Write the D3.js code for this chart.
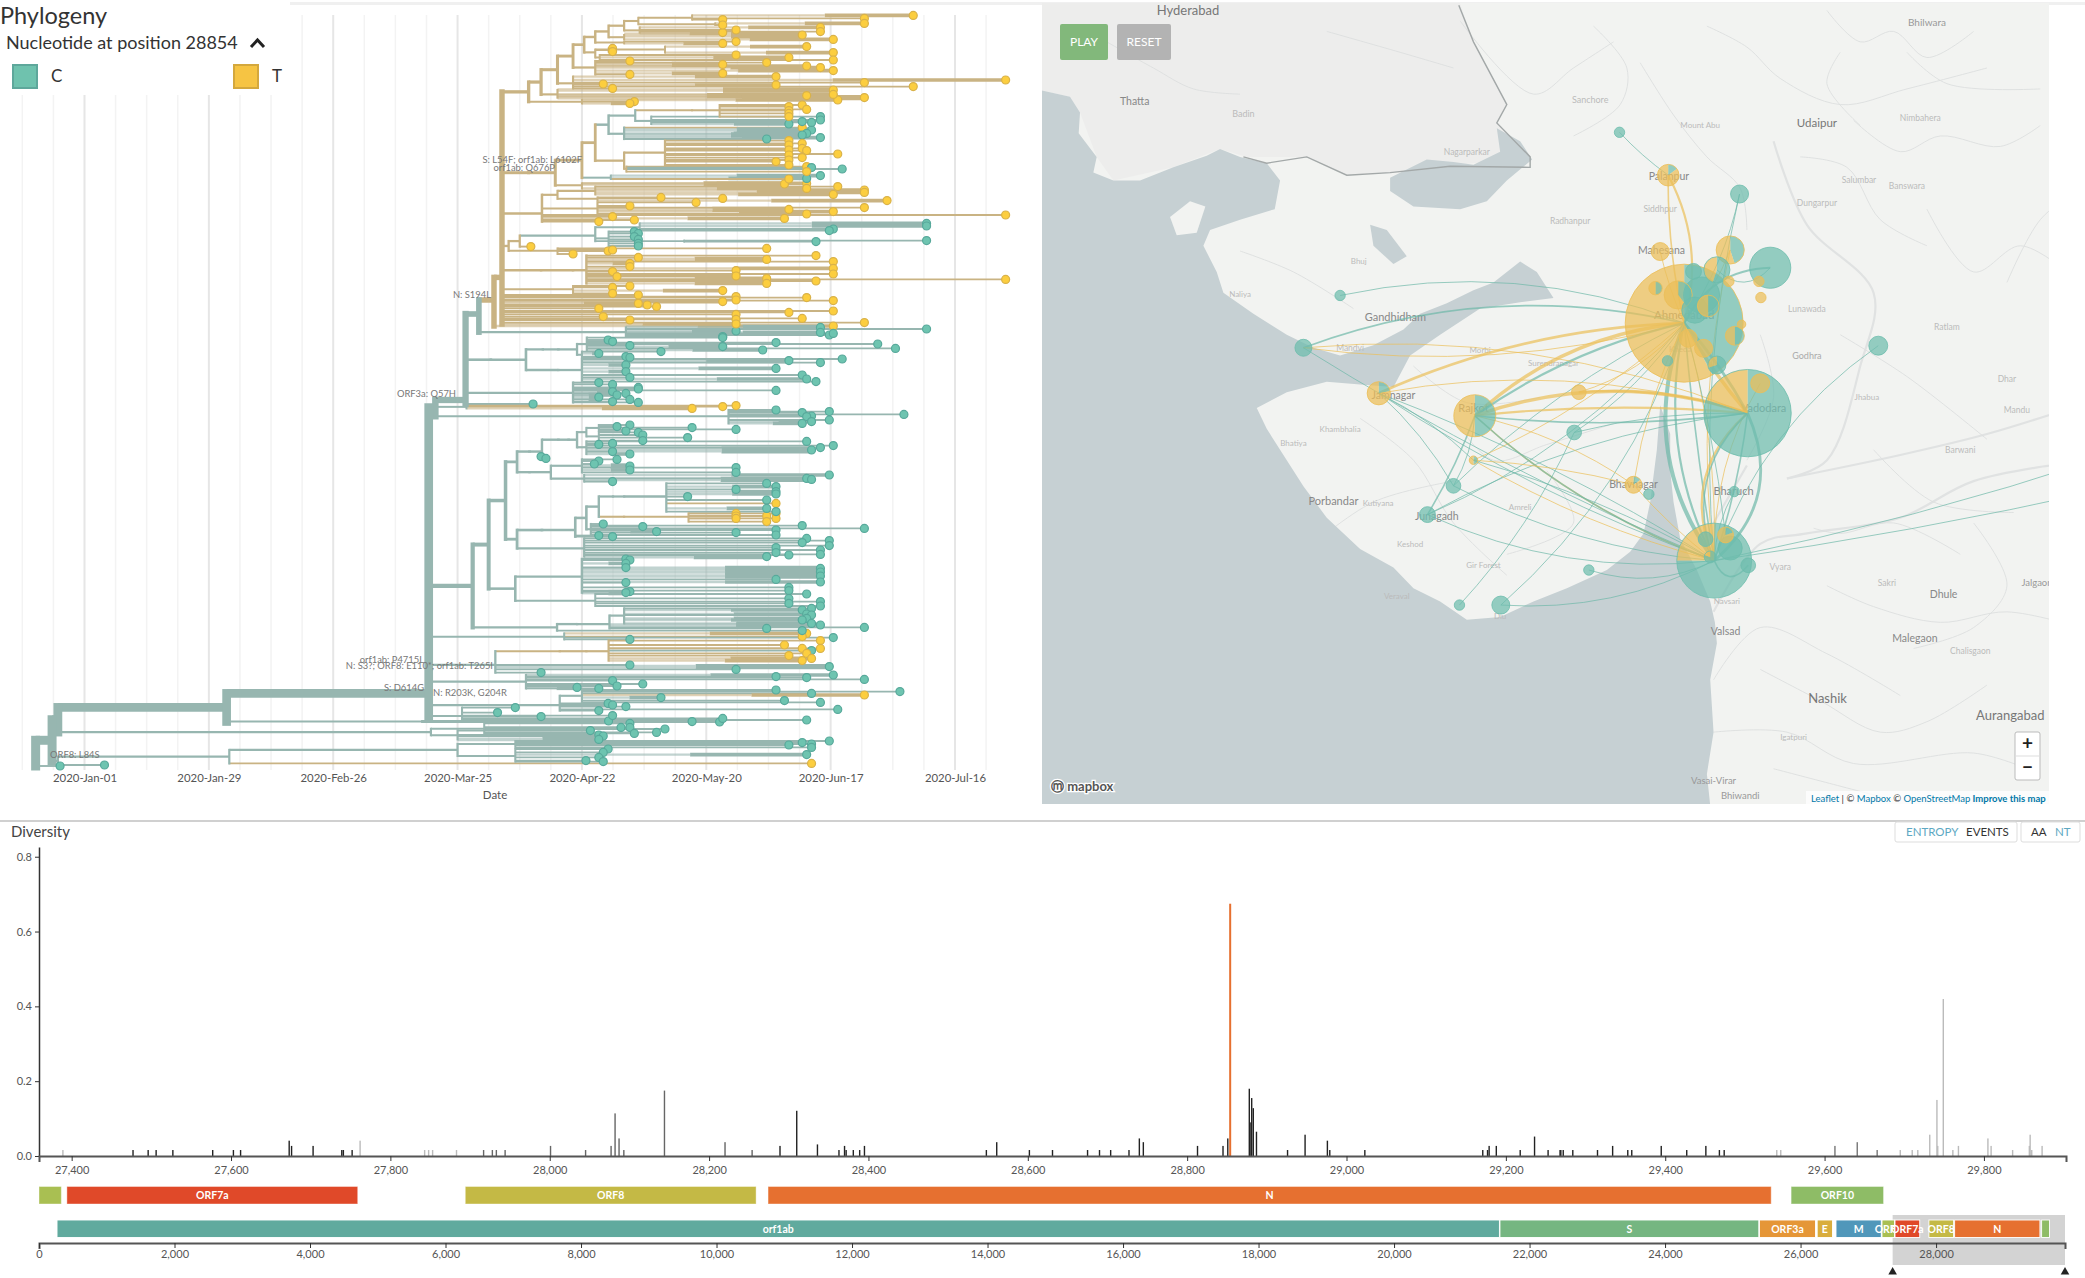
<!DOCTYPE html>
<html><head><meta charset="utf-8">
<script src="https://cdnjs.cloudflare.com/ajax/libs/d3/7.8.5/d3.min.js"></script>
<style>html,body{margin:0;padding:0;background:#fff;overflow:hidden}svg{display:block;font-family:Lato,"Open Sans",sans-serif}</style>
</head><body><svg id="c" width="2085" height="1278"></svg>
<script>
// ---------- tree data: internal [day,[children],state,rowOverride]; tip [day,row,samples,state]
const tickDays=[0,28,56,84,112,140,168,196];
const tickLabels=["2020-Jan-01","2020-Jan-29","2020-Feb-26","2020-Mar-25","2020-Apr-22","2020-May-20","2020-Jun-17","2020-Jul-16"];
const cladeA=[100,[[102.8,[[106.5,[[110,[[112.5,[[115,[[118,[[121.5,[[124.7,[[136.8,[[186.6,7.7,2],[175.6,9.2],[143.7,9.8]]],[142,[[175.6,11.7,2],[143.7,12.5]]]]],[125,[[165.7,13.7,2],[146.7,15],[165.7,15.8],[143.7,16.3,3]]]]],[121.5,[[161.6,17.5,4],[168.6,19.7,2]]]]],[121.5,[[146.7,20.8],[143.7,21.7,2]]]]],[115,[[118,[[118.9,24.2],[118.9,25.8]]],[130.7,[[162.6,23.3,2],[168.6,26.3,2]]],[116,[[146.7,27.5],[158.6,28.7,2],[168.6,30]]]]]]],[115,[[122.8,30.5],[153.6,31.3],[143.7,32.2,3],[162.6,33,2],[165.7,33.8,2],[168.6,35.3,2],[122.8,37.2],[143.7,36.7,2]]]]],[110,[[155.7,38.3,2],[207.4,40,2],[175.6,41.3],[116.8,42],[155.7,42.5,2],[186.6,43.3],[118.9,44.2]]]]],[106.5,[[168.6,45,3],[168.6,47.2,2],[162.6,47.8,3],[175.6,48.8,3]]]]],[112,[[169.6,50,2],[123.8,50.8],[122.8,51.7,2]]]]];
const cladeB=[100,[[106,[[112,[[115,[[118,[[124,[[136.8,[[143,[[161.6,52.5],[158.6,53.3],[162.6,54.7],[158.6,55.3],[158.6,56.7],[158.6,58.3]]]],"T"],[127.6,[[165.7,58.3],[165.7,60],[161.6,60.8],[163.7,61.2],[158.6,62,2]]]]],[121.5,[[161.6,63.8,1,"T"],[163.7,65,3],[162.6,66.7,2],[161.6,67.5,3],[153.6,69.5],[165.7,68.8,2]]]],"C"],[121.5,[[130.7,[[158.6,70.3],[161.6,71.7],[158.6,72.5],[161.6,74.2],[158.6,75],[162.6,75.3],[169.6,77],[158.6,77.5],[161.6,78.8],[158.6,80],[155.7,80.8],[158.6,82.5]]],[122,[[162.6,83.3],[163.7,83.8,1,"C"],[170.6,84.5,1,"C"],[162.6,85.8]]]]]]],[118.5,[[165.7,87.8,2],[162.6,89.2,2],[158.6,89.5,1,"T"]],"C"]]],[112,[[157.6,92,3],[162.6,91.7,2],[162.6,94.2,2]]]]]]];
const cladeC=[103,[[106.5,[[115,[[169.6,93.3],[175.6,95,2],[175.6,96.2,2],[168.6,97.2,2]]],[115.5,[[129.8,98.7],[143.7,99.2],[180.7,100.3,2]]]]],[115.5,[[137.7,101.2],[122.8,103],[175.6,103.8],[158.6,104.7,3],[168.6,105.8,2],[162.6,107]]],[207.4,107.5],[118.9,108.3],[157.6,109.2,2],[123.8,110],[115.8,110.8]]];
const cladeD=[95.5,[[98,[[100.5,123.3],[115,[[118,[[123.8,115.8],[124.7,116.7],[123.8,118.3],[124.7,119.7],[124.7,121.7],[124.7,123]]],[125,[[189.6,111.7,2],[189.6,113,2],[168.6,114.5],[167.7,115.3]]],[135,[[164.7,120.8],[189.6,120.3]]]],"C"]]],[106.5,[[110,127],[117.9,125.5],[118.9,125],[153.6,124.2]]]]];
const cladeE=[102.8,[[110,[[113,[[124.7,128.7],[164.7,127.8],[153.6,129.7,3],[122.8,131.7,2],[122.8,133.3],[168.6,130.8],[168.6,134.2,2],[168.6,137],[146.7,135.3],[146.7,138],[118.9,135.8],[119.9,138.3],[164.7,140.5],[207.4,139.7],[153.6,139.2,2],[153.6,141.7,2]]]]]]];
const tipsF=[[110,[[118.9,143.7],[122.8,143],[118.9,146.7],[143.7,145.3,2]]],[124.7,147.5],[143.7,150.8,2],[146.7,148.3],[146.7,150],[162.6,148.8],[168.6,150.3],[124.7,151.7,2],[126.7,152.5],[128.8,153.3],[115.8,154.2],[116.8,158.3],[122.8,160],[146.7,157.2],[146.7,159.7],[146.7,162,2],[158.6,156.2],[161.6,159.2],[168.6,155.5],[175.6,161.3]];
const cladeTeal1=[121.9,[[165.7,163.7,3],[189.6,164.5],[146.7,165.5,3],[165.7,166.2,2],[167.7,167.5],[168.6,166.7],[143.7,168.3]],"C"];
const cladeG=[91.5,[[99.4,[[103.2,[[106.7,[[110.9,[[113.1,[[117.9,170],[118.9,170.8],[122.8,172.8],[143.7,168.8],[143.7,173.3,2],[155.7,171.3],[178.6,172],[182.6,174.2],[152.7,175,2]]],[112,[[129.8,175.8],[115.8,176.7,2],[121.9,178.3],[122.8,178.7]]]]]]]]],[106.7,[[112,[[158.6,180.3,3],[165.7,181.3],[170.6,179.5],[121.9,182.5,2],[155.7,184.2,2],[121.9,185.8,2],[122.8,188.7],[161.6,187.5],[162.6,189.5,2],[164.7,190.8]]]]]]]]];
const cladeG2=[110,[[115.8,191.3],[118.9,192.2],[124.7,193.7],[124.7,194.5],[155.7,195.2],[118.9,195.8,3],[119.9,197.5,2],[121.9,196.7],[115.8,198.6,5],[118.9,200.8],[122.8,199.7],[124.7,201.2]]];
const tipsT2=[[136.8,204.2,2,"T"],[143.7,203.3,1,"T"],[146.7,202.8,1,"T"]];
const cladeH0=[145,[[155.7,205],[161.6,206.3],[167.7,205.8],[163.7,208],[162.6,208.3],[184.5,207.2],[161.6,211.7,2],[163.7,210.8,2],[167.7,210]]];
const cladeH1=[100.2,[[103,[[106.7,[[109,[[110.9,[[113,[[115.8,[[119.9,213.3],[122.8,212.5],[121.9,215.5],[136.8,213.8],[146.7,214.7]]],[115.8,[[124.7,216.2],[125.7,217.5],[125.7,220.3],[135.8,218.8]]]]],[113,[[115.8,222.2],[118.9,221.7],[162.6,220.7],[163.7,225,4],[165.7,223.8],[168.6,222.8],[118.9,225.8],[122.8,227,2]]]]]]]]],[102.8,228.3],[103.9,229.2]]]]];
const cladeH2=[105,[[112,[[119.9,229.7],[115.8,230.5],[114.8,232],[122.8,233,3],[122.8,235,2],[146.7,233.8],[146.7,236.2]]],[112.5,[[118.9,240.8],[162.6,239.2],[163.7,239.7,3],[167.7,237.5,2]]]]];
const cladeH3=[97.4,[[103,[[110.5,[[113,[[115.8,[[119,[[121.5,[[131,[[153.6,241.7],[146.7,244.7],[155.7,243.3,2],[155.7,245.8,2],[155.7,247,2],[135.8,248.3],[153.6,250],[155.7,251.7,1,"T"],[153.6,254.2,2],[155.7,255.8]]]]]]],[121.5,[[136,[[146.7,256.7],[146.7,258],[146.7,259.2],[153.6,258],[153.6,260.8],[155.7,256.7],[155.7,259.2]]]],"T"]]],[114,[[116.8,262],[125.7,263.3],[128.8,265.8,2],[161.6,262.8],[175.6,264.2],[155.7,265],[146.7,266.3],[155.7,267.5]]]]],[115.8,267.8],[118.9,268.3]]]]],[112.5,[[162.6,269.2],[161.6,271.3],[167.7,270.3],[167.7,272.8],[155.7,273.8],[155.7,276.3],[165.7,275],[165.7,277.2],[158.6,277.5],[153.6,278.3,3]]]]];
const cladeH4=[97,[[112,[[121.9,279.5],[122.8,280],[121.9,281.7,2],[121.9,283.8],[165.7,284.2,3],[165.7,286,3],[155.7,289.7],[165.7,288,3],[165.7,291,2],[121.9,291.3],[122.8,295.8],[121.9,296.3,3],[158.6,293.7],[158.6,295.3]]],[115,[[162.6,297],[158.6,299.2],[165.7,300.8],[158.6,301.7],[165.7,303]]]]];
const cladeH5=[106.4,[[110.9,[[118.2,[[121.5,[[161.6,305,2],[163.7,304.2],[162.6,307,2],[163.7,307.5],[162.6,309.2,2],[161.6,310,2],[163.7,311.7,2]]],[165.7,312.5,3],[175.6,313.7],[153.6,314.2]]]]],[161.6,315.3]]];
const cladeMixT=[92.5,[[107,[[113,[[118,[[165.7,320.3],[157.6,322.5],[165.7,324.2],[161.6,324.2],[163.7,325.3,1,"C"],[162.6,326.7],[158.6,327.8],[163.7,329.2,2],[161.6,330.3,2]]]]]],"T"],[122.8,332.5],[167.7,333.3,3],[146.7,334.7],[102.8,336.3]]];
const row319=[108,[[162.6,316.7,2,"T"],[161.6,318.3,1,"T"],[168.6,318.8],[122.8,319.7]]];
const cladeL=[99.4,[[155.7,338.3],[162.6,338.8],[168.6,337.5,2],[175.6,339.7],[118.9,340.3],[125.7,342],[119.9,343],[115.8,344.2],[110.9,343.7,3]]];
const cladeM=[107,[[112,[[155.7,345],[183.6,345.8],[163.7,346.7],[175.6,347.5,2,"T"],[129.8,348.8,2],[157.6,350.3],[165.7,351.2]]],[117.9,351.7],[118.9,352.5],[121.9,353.3],[169.6,354.7],[115.8,355.3]]];
const cladeN=[85,[[97,353.8],[93,356.3],[102.8,358.3],[118.9,357.8],[143.7,359.2],[136.8,360.8],[162.6,360]]];
const cladeJ=[78,[[90,[[122.8,361.7],[120.8,363.7],[122.8,363.7],[130.7,364.5],[128.8,366.2],[123.8,366.7]]],[84,[[113.9,365.3],[115.8,367.5],[116.8,368],[115.8,369.7,3]]]]];
const cladeK=[32.6,[[84,[[97,[[167.7,370.5],[161.6,371.3],[163.7,372],[163.7,373.7],[158.6,372.5]]],[97,[[117.9,374.5],[116.8,376.2],[115.8,378.7],[116.8,380.8],[162.6,377.3,2],[112.9,380.3]]]]],[163.7,381.7,1,"T"]]];
const mainStem=[77.5,[
  [79,[[85.8,[[88.8,[[92.2,[[94,[cladeA,cladeB,cladeC,cladeD,cladeE,...tipsF],"T",138.7],[168.6,163,2,"T"]],"T",150],cladeTeal1],undefined,157],cladeG,cladeG2,[101,202]],undefined,200],[86,tipsT2],cladeH0]],
  [87.4,[[91,[[94.8,[[97.4,[cladeH1,[100.2,[cladeH2]]]],cladeH3]],cladeH4]],cladeH5]],
  row319,cladeMixT,cladeL,cladeM,cladeN],undefined,346.7];
const phylogeny=[-11,[[-7.3,[[-6,[[32,[mainStem,[76,[[143,361],[118,360.5]]]]],cladeJ]],[-6,[[4.5,382.5],cladeK]]]],[-5.5,383]],"C"];
const stateColors={C:"#6ec4b0",T:"#fcce3f"},stateEdge={C:"#58a99b",T:"#d9b24a"},branchColors={C:"#97b6b0",T:"#c9b383"};
const mutationLabels=[["S: L54F; orf1ab: L6102F",582,163,"end"],["orf1ab: Q676P",555,171,"end"],["N: S194L",491,298,"end"],["ORF3a: Q57H",456,397,"end"],["orf1ab: P4715L",424,663,"end"],["N: S3?; ORF8: E110*; orf1ab: T265I",493,669,"end"],["S: D614G",424,691,"end"],["N: R203K, G204R",433,696,"start"],["ORF8: L84S",50,758,"start"]];

// ---------- map data, in a map grid (east, south)
const seaOutline=[[0,172],[45,185],[60,215],[58,255],[85,300],[80,330],[110,345],[150,345],[200,320],[250,298],[270,285],[300,300],[340,312],[360,345],[352,400],[300,420],[255,440],[245,470],[265,520],[275,560],[320,600],[370,640],[410,665],[450,680],[500,660],[545,630],[570,600],[610,580],[650,555],[680,540],[720,500],[745,520],[770,570],[720,578],[660,590],[600,640],[555,680],[530,740],[480,735],[430,730],[370,750],[325,780],[340,820],[365,870],[395,930],[430,990],[480,1050],[530,1085],[560,1125],[600,1150],[640,1185],[690,1180],[740,1150],[790,1125],[850,1090],[885,1055],[905,1020],[915,960],[925,860],[930,775],[945,830],[945,900],[950,960],[960,1030],[985,1090],[1005,1150],[1012,1190],[1015,1230],[1005,1300],[1010,1400],[1000,1480],[1005,1540],[0,1540]];
const rannOutline=[[525,340],[580,305],[620,310],[650,315],[690,290],[685,245],[720,270],[738,305],[700,345],[670,385],[630,400],[560,395],[525,365]];
const rann2Outline=[[495,430],[520,440],[550,490],[530,505],[500,470]];
const kutchIsland=[[195,415],[225,385],[248,395],[235,445],[205,450]];
const pakistanOutline=[[0,0],[628,0],[650,80],[700,200],[685,235],[735,300],[525,330],[460,335],[400,300],[310,300],[270,285],[200,320],[110,345],[85,300],[60,215],[45,185],[0,172]];
const borderLine=[[628,10],[650,80],[700,200],[685,235],[735,300],[735,320],[615,318],[525,330],[460,335],[400,300],[340,312],[305,300]];
const stateLines=[[[1100,270],[1150,430],[1250,560],[1230,700],[1180,880],[1120,915]],[[1120,915],[1290,870],[1420,830],[1570,770]],[[1010,1170],[1080,1040],[1150,1020],[1290,990],[1400,920],[1570,880]],[[1060,890],[1010,1000]]];
const riverLines=[[[630,40],[740,180],[800,130],[860,80]],[[900,120],[950,220],[1000,300],[1050,360],[1060,440]],[[1000,50],[1060,90],[1110,150],[1200,200],[1300,170],[1420,130]],[[1140,300],[1210,320],[1260,420],[1330,470]],[[1160,1010],[1200,1020],[1280,1000],[1380,1060]],[[1400,1000],[1450,1120],[1400,1200],[1310,1240]],[[1010,1300],[1080,1200],[1180,1250],[1290,1330]],[[1010,1400],[1120,1400],[1220,1460],[1400,1440],[1480,1470]],[[1300,100],[1360,160],[1500,170]],[[400,1050],[500,960],[620,920]],[[760,900],[800,1000],[700,1060]],[[560,700],[640,770],[750,760]],[[100,80],[170,130],[230,170],[300,180]],[[430,60],[540,100],[620,130]],[[1450,540],[1500,420],[1560,360]],[[1200,640],[1300,720],[1420,840]],[[1080,640],[1100,760],[1060,880]],[[1180,20],[1230,80],[1280,60],[1330,110],[1400,60]],[[830,50],[880,130],[870,200],[800,260]],[[1220,230],[1290,290],[1350,260],[1440,280],[1500,240]],[[1330,400],[1400,520],[1470,470],[1540,520]],[[1180,1120],[1250,1160],[1350,1190],[1450,1170],[1560,1200]],[[1080,1280],[1170,1340],[1260,1400],[1330,1380],[1420,1310]],[[1100,1470],[1190,1500],[1280,1530]],[[620,800],[680,880],[760,850],[860,810]],[[480,800],[560,880],[620,1000],[700,1100]],[[300,480],[380,520],[470,590]],[[1250,860],[1340,960],[1460,980]],[[1200,100],[1180,160],[1230,240]]];
const placeLabels=[["Hyderabad",222,20,13,"#777"],["Udaipur",1165,235,11.5,"#777"],["Nashik",1181,1335,13,"#777"],["Aurangabad",1455,1368,13,"#777"],["Thatta",142,193,10.5,"#888"],["Porbandar",440,958,11,"#888"],["Gandhidham",533,607,11,"#888"],["Mahesana",932,478,10.5,"#888"],["Palanpur",943,338,10.5,"#888"],["Ahmedabad",966,602,11.5,"#888"],["Vadodara",1085,780,11,"#888"],["Rajkot",650,780,11,"#888"],["Jamnagar",530,755,10.5,"#888"],["Bhavnagar",890,926,10.5,"#888"],["Bharuch",1040,940,11,"#888"],["Valsad",1028,1207,10.5,"#888"],["Junagadh",595,988,10.5,"#888"],["Dhule",1355,1137,10.5,"#888"],["Malegaon",1312,1220,10.5,"#888"],["Vasai-Virar",1010,1492,9.5,"#999"],["Bhiwandi",1050,1522,9.5,"#999"],["Godhra",1150,680,9,"#aaa"],["Bhilwara",1330,43,10,"#999"],["Sanchore",825,190,9,"#bbb"],["Badin",305,217,9,"#bbb"],["Nagarparkar",640,290,8.5,"#bbb"],["Mount Abu",990,240,8,"#bbb"],["Siddhpur",930,400,8.5,"#bbb"],["Radhanpur",795,422,8.5,"#bbb"],["Lunawada",1150,590,8.5,"#bbb"],["Kheda",960,668,8,"#bbb"],["Ratlam",1360,625,8.5,"#bbb"],["Dhar",1450,725,8.5,"#bbb"],["Mandu",1465,785,8.5,"#bbb"],["Barwani",1380,860,8.5,"#bbb"],["Jhabua",1240,760,8,"#bbb"],["Surendranagar",770,695,8,"#bbb"],["Morbi",660,670,8,"#bbb"],["Veraval",535,1140,8,"#bbb"],["Diu",690,1178,8,"#bbb"],["Amreli",720,970,8,"#bbb"],["Navsari",1030,1150,8,"#bbb"],["Vyara",1110,1085,8.5,"#bbb"],["Sakri",1270,1115,8.5,"#bbb"],["Igatpuri",1130,1410,8,"#bbb"],["Jalgaon",1495,1115,9.5,"#999"],["Chalisgaon",1395,1245,8.5,"#bbb"],["Dungarpur",1165,388,8.5,"#bbb"],["Banswara",1300,355,8.5,"#bbb"],["Salumbar",1228,345,8.5,"#bbb"],["Nimbahera",1320,225,8.5,"#bbb"],["Naliya",300,562,8,"#bbb"],["Bhuj",478,500,8,"#bbb"],["Mandvi",465,665,8.5,"#bbb"],["Khambhalia",450,820,8,"#bbb"],["Bhatiya",380,848,8,"#bbb"],["Keshod",555,1040,8,"#bbb"],["Gir Forest",665,1080,8,"#bbb"],["Kutiyana",507,962,8,"#bbb"]];
const samples=[["Ahmedabad",966,618,387,.42],["Vadodara",1061,790,212,.8],["Surat",1011,1072,156,.75],["Rajkot",652,795,49,.5],["Jamnagar",508,752,15,.22],["Bhuj",450,565,3,1],["Mandvi",395,665,8,1],["Sirohi",869,253,3,1],["Palanpur",942,335,13,.15],["Sabarkantha",1049,371,9,1],["Mehsana",930,481,9,0],["Himmatnagar",1035,478,22,.45],["Dungarpur",1095,512,47,1],["Modasa",1015,516,19,.55],["Gandhinagar",980,519,7,1],["Kalol",923,551,5,.5],["Kadi",957,564,22,.4],["Dehgam",992,564,36,1],["Kapadvanj",1002,585,13,.5],["Naroda",982,593,19,1],["Kheda",1052,620,2,0],["Nadiad",1042,642,10,.5],["Shamlaji",1078,538,3,0],["Bayad",1081,569,3,0],["Idar",1033,538,3,0],["Anand",995,666,9,0],["Sanand",972,647,9,0],["Petlad",1015,698,9,.7],["Bavla",941,690,3,1],["Chotila",808,750,6,0],["Botad",801,827,6,1],["Panchmahal",1080,733,10,0],["Bhavnagar",890,927,8,.15],["Ghogha",913,945,3,1],["Bharuch",1041,940,3,1],["Mahuva",823,1090,3,1],["Olpad",998,1031,6,1],["Kamrej",1005,1065,4,.8],["Ankleshwar",1028,1023,7,.2],["Bardoli",1035,1048,16,1],["Tapi",1062,1081,6,1],["Gondal",650,880,2,.5],["Amreli",620,929,6,1],["Junagadh",581,984,7,1],["Veraval",629,1157,3,1],["Una",691,1157,9,1],["Dahod",1257,661,10,1],["East1",1600,872,0,1],["East2",1600,935,0,1]];
const transmissions=[["Ahmedabad","Bhuj","C",1,-.15],["Ahmedabad","Mandvi","C",2,-.15],["Ahmedabad","Mandvi","T",1,.1],["Ahmedabad","Jamnagar","T",4,-.1],["Ahmedabad","Rajkot","T",5,-.17],["Ahmedabad","Rajkot","C",3,-.1],["Ahmedabad","Chotila","T",1,.15],["Ahmedabad","Botad","C",1,.1],["Ahmedabad","Amreli","C",1,-.08],["Ahmedabad","Junagadh","C",1,.12],["Ahmedabad","Gondal","T",1,.08],["Ahmedabad","Surat","C",6,-.27],["Ahmedabad","Surat","C",3,-.18],["Ahmedabad","Surat","C",2,-.02],["Ahmedabad","Surat","T",1,.08],["Ahmedabad","Vadodara","T",5,-.05],["Ahmedabad","Vadodara","C",4,.06],["Ahmedabad","Palanpur","T",2,.06],["Ahmedabad","Palanpur","T",3,-.2],["Palanpur","Sirohi","C",1,.05],["Ahmedabad","Mehsana","T",1,.05],["Ahmedabad","Himmatnagar","T",1,-.1],["Ahmedabad","Sabarkantha","C",1,-.1],["Ahmedabad","Dungarpur","C",3,.3],["Surat","Sabarkantha","C",1,.08],["Surat","Panchmahal","T",1,.14],["Surat","Himmatnagar","T",1,.09],["Vadodara","Rajkot","T",5,-.17],["Vadodara","Rajkot","T",3,-.05],["Vadodara","Chotila","T",3,-.1],["Vadodara","Botad","C",1,-.07],["Vadodara","Surat","C",4,.37],["Vadodara","Surat","C",2,.05],["Surat","Vadodara","T",3,.36],["Surat","Vadodara","C",2,.33],["Vadodara","Jamnagar","T",1,-.12],["Vadodara","Rajkot","C",2,.06],["Vadodara","Junagadh","C",1,-.1],["Vadodara","Mandvi","T",1,-.12],["Surat","Rajkot","T",2,.1],["Surat","Rajkot","C",2,.1],["Surat","Jamnagar","C",1,.06],["Surat","Jamnagar","C",1,-.05],["Surat","Mandvi","C",1,.04],["Surat","Gondal","T",1,.07],["Surat","Gondal","C",1,-.06],["Surat","Bhavnagar","T",1,.05],["Surat","Junagadh","C",1,.14],["Surat","Una","C",1,.14],["Surat","Mahuva","C",1,.2],["Botad","Veraval","C",1,.08],["Ahmedabad","Una","C",1,.14],["Rajkot","Junagadh","C",2,.05],["Surat","East1","C",1,-.03],["Surat","East2","C",1,-.02],["Surat","Dahod","C",1,.16],["Surat","Bharuch","C",1,.12],["Jamnagar","Amreli","C",1,.08],["Jamnagar","Gondal","C",1,.08],["Rajkot","Bhavnagar","T",1,.1],["Rajkot","Amreli","C",1,.12],["Surat","Amreli","C",1,.1],["Gondal","Bhavnagar","T",1,.05],["Ahmedabad","Ankleshwar","C",1,.04],["Ahmedabad","Bhavnagar","T",1,-.08],["Surat","Tapi","C",2,-.8],["Surat","Kamrej","C",2,.7],["Dungarpur","Modasa","C",1,.5]];

// ---------- entropy data
const entropyPositions=[27389,27477,27496,27506,27527,27577,27603,27612,27673,27676,27703,27739,27741,27752,27762,27843,27848,27853,27883,27917,27928,27933,27944,28001,28045,28077,28082,28087,28093,28144,28220,28254,28289,28310,28336,28363,28370,28372,28381,28389,28395,28548,28561,28602,28631,28675,28690,28704,28727,28740,28745,28813,28845,28851,28854,28878,28879,28881,28883,28887,28926,28948,28976,28979,29023,29171,29177,29179,29188,29218,29236,29253,29268,29269,29272,29284,29315,29334,29353,29358,29395,29427,29451,29468,29474,29540,29545,29613,29641,29666,29695,29710,29717,29732,29741,29742,29749,29761,29768,29805,29809,29836,29857,29858,29860,29873];
const entropyValues=[.016,.016,.016,.016,.016,.016,.016,.016,.041,.027,.027,.016,.016,.016,.041,.016,.016,.016,.016,.016,.016,.016,.016,.027,.016,.027,.114,.047,.016,.175,.037,.016,.027,.121,.031,.016,.027,.016,.016,.016,.027,.016,.037,.016,.016,.016,.016,.016,.016,.047,.037,.027,.027,.047,.675,.18,.09,.155,.128,.065,.016,.057,.041,.016,.016,.016,.016,.027,.027,.016,.052,.016,.016,.016,.016,.016,.016,.027,.016,.016,.027,.016,.027,.016,.016,.016,.016,.027,.037,.016,.016,.016,.016,.057,.15,.027,.42,.016,.027,.047,.027,.016,.027,.057,.016,.027];
const highlightedSite=28854;
const yTicks=[0,.2,.4,.6,.8];
const genes=["orf1ab","S","ORF3a","E","M","ORF6","ORF7a","ORF8","N","ORF10"];
const geneStarts=[266,21563,25393,26245,26523,27202,27394,27894,28274,29558];
const geneEnds=[21555,25384,26220,26472,27191,27387,27759,28259,29533,29674];
const geneColors=["#60aa9e","#75b681","#e59637","#d9ad3d","#5097ba","#a9bf52","#e04929","#c4b945","#e67030","#8ebc66"];
const geneBarTones={ORF7a:"#222",ORF8:"#666",N:"#222",ORF10:"#777"};
const zoomRange=[27359,29903];
const genomeTicks=d3.range(0,29000,2000);

// ---------- drawing
const svg=d3.select("#c");
svg.append("rect").attr("width",2085).attr("height",1278).attr("fill","#fff");
svg.append("rect").attr("x",290).attr("y",2).attr("width",1795).attr("height",3).attr("fill","#f0f0f0");

/* ---- tree ---- */
const x=d3.scaleLinear([0,196],[84.5,955]);
const y=d3.scaleLinear([0,390],[0,780]);
const grid=svg.append("g");
grid.selectAll("line").data(d3.range(-14,204,7)).join("line")
  .attr("x1",d=>x(d)).attr("x2",d=>x(d)).attr("y1",15).attr("y2",770)
  .attr("stroke",d=>d%28===0?"#e6e6e6":"#f3f3f3").attr("stroke-width",d=>d%28===0?2:1.5);
function parse(a,st){
  if(!Array.isArray(a[1])) return {day:a[0],row:a[1],n:a[2]||1,state:a[3]||st,tip:true};
  const state=a[2]||st;
  const kids=a[1].map(k=>parse(k,state));
  return {day:a[0],kids,state,n:d3.sum(kids,k=>k.n),row:a[3]!==undefined?a[3]:d3.mean(kids,k=>k.row)};
}
const root=d3.hierarchy(parse(phylogeny,"C"),d=>d.kids);
const nodes=root.descendants();
const tw=d3.scalePow().exponent(.8).domain([1,root.data.n]).range([1.9,9]);
const rowH=y(1)-y(0);
const bw=d=>d.data.tip?1.9:tw(d.data.n);
const branches=svg.append("g").attr("fill","none").attr("stroke-linecap","square");
const order=nodes.slice().sort((a,b)=>bw(a)-bw(b));
// collapsed tips (several samples) fade from a thin light run into a dense dark run
const segs=[];
order.filter(d=>d.parent).forEach(d=>{
  const p=d.parent.data.day,t=d.data.day,n=d.data.n;
  if(d.data.tip&&n>1){
    const m=p+(t-p)*.6;
    segs.push({a:p,b:m,row:d.data.row,st:d.data.state,w:Math.max(1.9,n*rowH*.6),o:.6});
    segs.push({a:m,b:t,row:d.data.row,st:d.data.state,w:n*rowH*.9,o:1});
  } else segs.push({a:p,b:t,row:d.data.row,st:d.data.state,w:bw(d),o:1});
});
branches.selectAll(".h").data(segs).join("line").attr("class","h")
  .attr("x1",d=>x(d.a)).attr("x2",d=>x(d.b)).attr("y1",d=>y(d.row)).attr("y2",d=>y(d.row))
  .attr("stroke",d=>branchColors[d.st]).attr("stroke-width",d=>d.w).attr("stroke-opacity",d=>d.o)
  .attr("stroke-linecap","butt");
branches.selectAll(".v").data(order.filter(d=>d.children)).join("line").attr("class","v")
  .attr("x1",d=>x(d.data.day)).attr("x2",d=>x(d.data.day))
  .attr("y1",d=>y(Math.min(d.data.row,d3.min(d.children,k=>k.data.row)))).attr("y2",d=>y(Math.max(d.data.row,d3.max(d.children,k=>k.data.row))))
  .attr("stroke",d=>branchColors[d.data.state]).attr("stroke-width",bw);
svg.append("g").selectAll("circle").data(nodes.filter(d=>d.data.tip)).join("circle")
  .attr("cx",d=>x(d.data.day)).attr("cy",d=>y(d.data.row)).attr("r",4)
  .attr("fill",d=>stateColors[d.data.state]).attr("stroke",d=>stateEdge[d.data.state]).attr("stroke-width",1.2);
const xa=d3.axisBottom(x).tickValues(tickDays).tickFormat((d,i)=>tickLabels[i]).tickSize(0);
const xag=svg.append("g").attr("transform","translate(0,772)").call(xa);
xag.select(".domain").remove();
xag.selectAll("text").attr("font-size",11.4).attr("font-family","Lato").attr("fill","#555").attr("dy","0.6em");
svg.append("text").attr("x",495).attr("y",799).attr("text-anchor","middle").attr("font-size",11.5).attr("fill","#555").text("Date");
svg.append("g").selectAll("text").data(mutationLabels).join("text")
  .attr("x",d=>d[1]).attr("y",d=>d[2]).attr("text-anchor",d=>d[3]).attr("font-size",9.4).attr("fill","#777").text(d=>d[0]);
// legend
svg.append("rect").attr("width",290).attr("height",95).attr("fill","#fff");
svg.append("text").attr("x",0).attr("y",24).attr("font-size",23.5).attr("fill","#333").text("Phylogeny");
svg.append("text").attr("x",6).attr("y",49).attr("font-size",18).attr("fill","#333").text("Nucleotide at position 28854");
svg.append("path").attr("d",d3.line()([[251,47],[257.5,40],[264,47]])).attr("fill","none").attr("stroke","#222").attr("stroke-width",3);
const lg=svg.append("g").selectAll("g").data(["C","T"]).join("g").attr("transform",(d,i)=>`translate(${i?234:13},65)`);
lg.append("rect").attr("width",24).attr("height",23).attr("fill",d=>d==="C"?"#6fc2ae":"#f6c443").attr("stroke",d=>d==="C"?"#5ea79b":"#d4a83d").attr("stroke-width",2);
lg.append("text").attr("x",38).attr("y",17).attr("font-size",17).attr("fill","#333").text(d=>d);

/* ---- map ---- */
const defs=svg.append("defs");
defs.append("clipPath").attr("id","mc").append("rect").attr("x",1042).attr("y",3).attr("width",1007).attr("height",801);
const gx=d3.scaleLinear([0,1567],[1040,2085]);
const gy=d3.scaleLinear([0,1568],[0,820]);
const geo=d3.line().x(d=>gx(d[0])).y(d=>gy(d[1]));
const map=svg.append("g").attr("clip-path","url(#mc)");
map.append("rect").attr("x",1042).attr("y",3).attr("width",1007).attr("height",801).attr("fill","#f2f3f1");
map.append("path").attr("d",geo(pakistanOutline)+"Z").attr("fill","#ededec");
map.append("g").selectAll("path").data(stateLines).join("path").attr("d",d=>d3.line().curve(d3.curveCatmullRom).x(p=>gx(p[0])).y(p=>gy(p[1]))(d)).attr("fill","none").attr("stroke","#e0e2e2").attr("stroke-width",2.2);
map.append("g").selectAll("path").data(riverLines).join("path").attr("d",d=>d3.line().curve(d3.curveCatmullRom).x(p=>gx(p[0])).y(p=>gy(p[1]))(d)).attr("fill","none").attr("stroke","#dcdfdf").attr("stroke-width",.9);
map.append("path").attr("d",geo(seaOutline)+"Z").attr("fill","#c6d0d3");
map.append("path").attr("d",geo(rannOutline)+"Z").attr("fill","#c6d0d3");
map.append("path").attr("d",geo(rann2Outline)+"Z").attr("fill","#c6d0d3");
map.append("path").attr("d",geo(kutchIsland)+"Z").attr("fill","#f2f3f1");
map.append("path").attr("d",geo(borderLine)).attr("fill","none").attr("stroke","#a3a8a8").attr("stroke-width",1.4);
map.append("g").selectAll("text").data(placeLabels).join("text").attr("x",d=>gx(d[1])).attr("y",d=>gy(d[2])).attr("text-anchor","middle").attr("dy",".35em").attr("font-size",d=>d[3]).attr("fill",d=>d[4]).text(d=>d[0]);
const places=new Map(samples.map(s=>[s[0],s]));
const rs=d3.scaleSqrt([0,387],[0,59]);
const lineTone={C:"#6db8a8",T:"#ebbf58"};
const lw=d3.scaleLinear([1,6],[1,4]);
map.append("g").attr("fill","none").selectAll("path").data(transmissions).join("path").attr("d",t=>{
  const a=places.get(t[0]),b=places.get(t[1]);
  const x0=gx(a[1]),y0=gy(a[2]),x1=gx(b[1]),y1=gy(b[2]);
  const dx=x1-x0,dy=y1-y0;
  const p=d3.path();p.moveTo(x0,y0);p.quadraticCurveTo((x0+x1)/2+dy*t[4],(y0+y1)/2-dx*t[4],x1,y1);return p.toString();
}).attr("stroke",t=>lineTone[t[2]]).attr("stroke-width",t=>lw(t[3])).attr("stroke-opacity",.7);
const pie=d3.pie().sort(null);
const arc=d3.arc().innerRadius(0);
const pg=map.append("g").selectAll("g").data(samples.filter(s=>s[3]>0).sort((a,b)=>b[3]-a[3])).join("g")
  .attr("transform",d=>`translate(${gx(d[1])},${gy(d[2])})`);
pg.selectAll("path").data(d=>pie([d[4],1-d[4]]).map((s,i)=>({...s,r:rs(d[3]),st:i?"T":"C"}))).join("path")
  .attr("d",s=>arc.outerRadius(s.r)(s)).attr("fill",s=>s.st==="C"?"#6dbdad":"#ebbe57").attr("fill-opacity",.72);
pg.append("circle").attr("r",d=>rs(d[3])).attr("fill","none").attr("stroke",d=>d[4]>.5?"#6dbdad":"#ebbe57").attr("stroke-opacity",.8);
// map controls
const mapButtons=[["PLAY",1060,48,"#82b87b"],["RESET",1117,54,"#b3b3b3"]];
const bg=svg.append("g").selectAll("g").data(mapButtons).join("g").attr("transform",d=>`translate(${d[1]},24)`);
bg.append("rect").attr("width",d=>d[2]).attr("height",36).attr("rx",2).attr("fill",d=>d[3]);
bg.append("text").attr("x",d=>d[2]/2).attr("y",22).attr("text-anchor","middle").attr("font-size",12).attr("fill","#fff").text(d=>d[0]);
svg.append("rect").attr("x",2015).attr("y",732).attr("width",25).attr("height",48).attr("rx",2).attr("fill","#fff").attr("stroke","#bbb");
svg.append("line").attr("x1",2015).attr("x2",2040).attr("y1",756).attr("y2",756).attr("stroke","#ddd");
svg.append("text").attr("x",2027.5).attr("y",750).attr("text-anchor","middle").attr("font-size",19).attr("font-weight",700).attr("fill","#222").text("+");
svg.append("text").attr("x",2027.5).attr("y",774).attr("text-anchor","middle").attr("font-size",19).attr("font-weight",700).attr("fill","#222").text("−");
svg.append("text").attr("x",1051).attr("y",791).attr("font-size",13).attr("font-weight",700).attr("fill","#555").attr("stroke","#fff").attr("stroke-width",2.5).attr("paint-order","stroke").text("ⓜ mapbox");
svg.append("rect").attr("x",1806).attr("y",791).attr("width",243).attr("height",13).attr("fill","#fff").attr("fill-opacity",.75);
const attr=svg.append("text").attr("x",1811).attr("y",802).attr("font-size",9.5).attr("fill","#0078a8");
attr.append("tspan").text("Leaflet");attr.append("tspan").attr("fill","#333").text(" | © ");attr.append("tspan").text("Mapbox");attr.append("tspan").attr("fill","#333").text(" © ");attr.append("tspan").text("OpenStreetMap");attr.append("tspan").attr("font-weight",700).text(" Improve this map");

/* ---- diversity ---- */
svg.append("rect").attr("x",0).attr("y",820).attr("width",2085).attr("height",2).attr("fill","#d0d0d0");
svg.append("text").attr("x",11).attr("y",837).attr("font-size",15).attr("fill","#444").text("Diversity");
const tabs=[[1895,122],[2021,59]];
svg.append("g").selectAll("rect").data(tabs).join("rect").attr("x",d=>d[0]).attr("y",822).attr("width",d=>d[1]).attr("height",20).attr("rx",2).attr("fill","#fff").attr("stroke","#ddd");
const tabLabels=[["ENTROPY",1906,"#5da8c3"],["EVENTS",1966,"#333"],["AA",2031,"#333"],["NT",2055,"#5da8c3"]];
svg.append("g").selectAll("text").data(tabLabels).join("text").attr("x",d=>d[1]).attr("y",836).attr("font-size",11.5).attr("fill",d=>d[2]).text(d=>d[0]);
const ex=d3.scaleLinear(zoomRange,[39,2066]);
const ey=d3.scaleLinear([0,.8],[1156,857]);
function toneAt(p){const i=genes.findIndex((g,j)=>p>=geneStarts[j]&&p<=geneEnds[j]);return geneBarTones[genes[i]]||"#bbb";}
svg.append("g").selectAll("rect").data(entropyPositions.map((p,i)=>({p,v:entropyValues[i]}))).join("rect")
  .attr("x",d=>ex(d.p)-(d.p===highlightedSite?1:.7)).attr("width",d=>d.p===highlightedSite?2:1.4)
  .attr("y",d=>ey(d.v)).attr("height",d=>ey(0)-ey(d.v))
  .attr("fill",d=>d.p===highlightedSite?"#e67030":toneAt(d.p));
const axStyle=g=>{g.selectAll("text").attr("font-family","Lato").attr("font-size",11).attr("fill","#555");g.selectAll(".tick line").attr("stroke","#333");};
const eyAxis=svg.append("g").attr("transform","translate(39,0)").call(d3.axisLeft(d3.scaleLinear([0,.826],[1156,847])).tickValues(yTicks).tickFormat(d3.format(".1f")).tickSize(4).tickSizeOuter(0)).call(axStyle);
eyAxis.select(".domain").attr("stroke","#333").attr("stroke-width",1.5);
const exAxis=svg.append("g").attr("transform","translate(0,1156)").call(d3.axisBottom(ex).tickValues(d3.range(27400,29801,200)).tickFormat(d3.format(",")).tickSize(5).tickSizeOuter(6)).call(axStyle);
exAxis.select(".domain").attr("stroke","#555").attr("stroke-width",2);
exAxis.selectAll("text").attr("dy",".95em");
// genes: zoomed row
const zoomGenes=genes.map((g,i)=>({g,s:Math.max(geneStarts[i],zoomRange[0]),e:geneEnds[i],c:geneColors[i]})).filter(d=>d.e>zoomRange[0]);
const zg=svg.append("g").selectAll("g").data(zoomGenes).join("g");
zg.append("rect").attr("x",d=>ex(d.s)).attr("y",1186.5).attr("width",d=>ex(d.e)-ex(d.s)).attr("height",17.5).attr("fill",d=>d.c).attr("stroke","#fff").attr("stroke-opacity",.4);
zg.filter(d=>d.g!=="ORF6").append("text").attr("x",d=>(ex(d.s)+ex(d.e))/2).attr("y",1199).attr("text-anchor","middle").attr("font-size",10.5).attr("font-weight",700).attr("fill","#fff").text(d=>d.g);
// genome nav
const nx=d3.scaleLinear([0,29903],[39,2065]);
svg.append("rect").attr("x",nx(zoomRange[0])).attr("y",1215).attr("width",nx(29903)-nx(zoomRange[0])).attr("height",50).attr("fill","#d3d3d3");
const ng=svg.append("g").selectAll("g").data(genes.map((g,i)=>({g,s:geneStarts[i],e:geneEnds[i],c:geneColors[i]}))).join("g");
ng.append("rect").attr("x",d=>nx(d.s)).attr("y",1220).attr("width",d=>nx(d.e)-nx(d.s)).attr("height",17.5).attr("fill",d=>d.c).attr("stroke","#fff").attr("stroke-width",.9);
ng.filter(d=>d.g!=="ORF10").append("text").attr("x",d=>(nx(d.s)+nx(d.e))/2).attr("y",1232.5).attr("text-anchor","middle").attr("font-size",10.5).attr("font-weight",700).attr("fill","#fff").text(d=>d.g==="ORF6"?"ORF6":d.g);
const nAxis=svg.append("g").attr("transform","translate(0,1243)").call(d3.axisBottom(nx).tickValues(genomeTicks).tickFormat(d3.format(",")).tickSize(5).tickSizeOuter(6)).call(axStyle);
nAxis.select(".domain").attr("stroke","#555").attr("stroke-width",2);
nAxis.selectAll("text").attr("dy",".6em");
const tri=d3.symbol().type(d3.symbolTriangle).size(32);
svg.append("g").selectAll("path").data(zoomRange).join("path").attr("transform",d=>`translate(${nx(d)},1272)`).attr("d",tri).attr("fill","#222");
</script></body></html>
